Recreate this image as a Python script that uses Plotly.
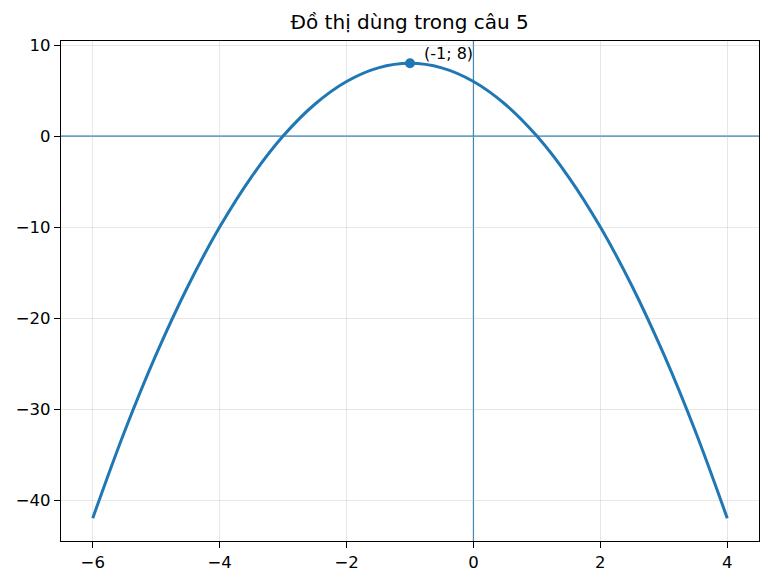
import plotly.graph_objects as go

# points
x_vals = [-6, -5.5, -5, -4.5, -4, -3.5, -3, -2.5, -2, -1.5, -1,
          -0.5, 0, 0.5, 1, 1.5, 2, 2.5, 3, 3.5, 4]
y_vals = [-42, -32.5, -24, -16.5, -10, -4.5, 0, 3.5, 6, 7.5, 8,
          7.5, 6, 3.5, 0, -4.5, -10, -16.5, -24, -32.5, -42]
vertex_x = [-1]
vertex_y = [8]
vertex_label = "(-1; 8)"
title_text = "Đồ thị dùng trong câu 5"

blue = "#1f77b4"
font = "DejaVu Sans"

fig = go.Figure()
fig.add_trace(go.Scatter(x=x_vals, y=y_vals, mode="lines",
                         line=dict(color=blue, width=3, shape="spline", smoothing=1),
                         showlegend=False))
fig.add_trace(go.Scatter(x=vertex_x, y=vertex_y, mode="markers",
                         marker=dict(color=blue, size=10),
                         showlegend=False))

# axis lines through the origin
fig.add_hline(y=0, line=dict(color=blue, width=1.2), layer="below")
fig.add_vline(x=0, line=dict(color=blue, width=1.2), layer="below")

fig.add_annotation(x=vertex_x[0], y=vertex_y[0], text=vertex_label, showarrow=False,
                   xanchor="left", yanchor="middle", xshift=12, yshift=10,
                   font=dict(family=font, size=16, color="black"))

axis_style = dict(showline=True, linecolor="black", linewidth=1.2, mirror=True,
                  ticks="outside", ticklen=6, tickwidth=1.2, tickcolor="black",
                  showgrid=True, gridcolor="rgba(176,176,176,0.3)", gridwidth=1,
                  zeroline=False, tickfont=dict(family=font, size=16.5, color="black"))

fig.update_xaxes(range=[-6.5, 4.5], tickvals=[-6, -4, -2, 0, 2, 4], **axis_style)
fig.update_yaxes(range=[-44.5, 10.45], tickvals=[-40, -30, -20, -10, 0, 10], **axis_style)

# page body adds ~8px, so the figure is a bit smaller than the window
fig.update_layout(
    width=755, height=568,
    margin=dict(l=53, r=4, t=33, b=35),
    plot_bgcolor="white", paper_bgcolor="white",
    title=dict(text=title_text, x=0.532, xanchor="center", y=0.975, yanchor="middle",
               font=dict(family=font, size=20, color="black")),
)

fig.write_html("out.html")
